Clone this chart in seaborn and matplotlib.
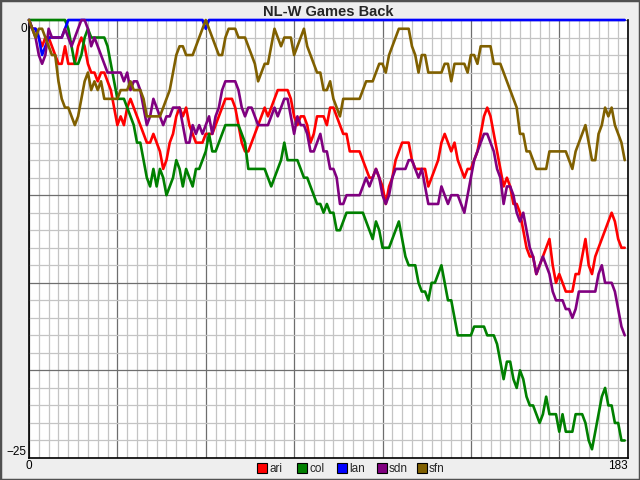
import numpy as np
import pandas as pd
import matplotlib
matplotlib.use("Agg")
import matplotlib.pyplot as plt
from matplotlib.patches import Rectangle
from matplotlib.transforms import ScaledTranslation
import seaborn as sns

title = "NL-W Games Back"
teams = ["ari", "col", "lan", "sdn", "sfn"]
colors = ["#FF0000", "#008000", "#0000FF", "#800080", "#806000"]
x_max = 183
y_min = -25

ari = [0, -0.5, -0.5, -1, -1.5, -1, -1, -1.5, -2, -2.5,
       -2.5, -1.5, -2.5, -2.5, -2.5, -1.5, -1, -1.5, -2.5, -3,
       -3, -3.5, -3, -3, -3.5, -4, -5, -6, -5.5, -6,
       -5, -4.5, -5, -5.5, -6, -6.5, -7, -7, -6.5, -7,
       -7.5, -8.5, -8, -7, -6.5, -5.5, -5, -5.5, -5, -6,
       -6.5, -7, -7, -7, -6.5, -6.5, -6.5, -6, -5.5, -5,
       -4.5, -4.5, -4.5, -5, -6, -7, -7.5, -7.5, -7, -6.5,
       -6, -5.5, -5, -5.5, -5, -4.5, -4, -4, -4, -4,
       -4.5, -5.5, -6, -5.5, -5.5, -6, -7, -6.5, -5.5, -5.5,
       -5.5, -6, -5, -5, -5.5, -6, -6.5, -6.5, -7.5, -7.5,
       -7.5, -7.5, -8, -8.5, -9, -9, -8.5, -9, -9.5, -10.5,
       -9.5, -9, -8, -7.5, -7, -7, -7, -8, -8.5, -8.5,
       -8.5, -8.5, -9.5, -9, -8.5, -8, -7, -6.5, -7, -7.5,
       -7, -8, -8.5, -9, -8.5, -8.5, -8, -7.5, -6.5, -5.5,
       -5, -5.5, -6.5, -7.5, -8.5, -9.5, -9, -9.5, -10.5, -10.5,
       -11, -12, -13, -13.5, -13.5, -14.5, -14, -13.5, -13, -12.5,
       -14, -15, -14.5, -15, -15.5, -15.5, -15.5, -14.5, -14.5, -13.5,
       -12.5, -14, -14.5, -13.5, -13, -12.5, -12, -11.5, -11, -11.5,
       -12.5, -13, -13]

col = [0, 0, 0, 0, 0, 0, 0, 0, 0, 0,
       0, 0, -0.5, -1.5, -2.5, -2.5, -2, -1, -0.5, -1,
       -1, -1, -1, -1, -1.5, -2.5, -3.5, -4.5, -4.5, -4.5,
       -5, -5.5, -6, -7, -7, -8, -9, -9.5, -8.5, -9.5,
       -8.5, -9, -10, -9.5, -9, -8, -8.5, -9.5, -8.5, -9,
       -9.5, -8.5, -8.5, -8, -7.5, -6.5, -7.5, -7.5, -7, -6.5,
       -6, -6, -6, -6, -6, -6.5, -7, -8.5, -8.5, -8.5,
       -8.5, -8.5, -8.5, -9, -9.5, -9, -8.5, -8, -7, -8,
       -8, -8, -8, -8.5, -9, -9, -9.5, -10, -10.5, -10.5,
       -11, -10.5, -11, -11, -12, -12, -11.5, -11, -11, -11,
       -11, -11, -11, -11.5, -12, -12.5, -11.5, -12, -13, -13,
       -13, -12.5, -12, -11.5, -12.5, -13.5, -14, -14, -14, -15,
       -15.5, -15.5, -16, -15, -15, -14.5, -14, -15, -16, -16,
       -17, -18, -18, -18, -18, -18, -17.5, -17.5, -17.5, -17.5,
       -18, -18, -18, -18.5, -19.5, -20.5, -19.5, -19.5, -20.5, -21,
       -20, -20.5, -21.5, -22, -22, -22.5, -23, -22.5, -21.5, -22.5,
       -22.5, -22.5, -23.5, -22.5, -23.5, -23.5, -23.5, -22.5, -22.5, -22.5,
       -23, -24, -24.5, -23.5, -22.5, -21.5, -21, -22, -22, -23,
       -23, -24, -24]

lan = [0, -0.5, -0.5, -1, -2, -1.5, -1, -1, -1, -1,
       -1, -0.5] + [0] * 42 + [-0.5] + [0] * 128

sdn = [0, -0.5, -1, -2, -2.5, -2, -0.5, -1, -1, -1,
       -1, -0.5, -1, -1.5, -1, -0.5, 0, 0, -0.5, -1.5,
       -1, -1.5, -2, -2.5, -3, -3, -3, -3, -3, -3.5,
       -3, -4, -3.5, -3.5, -4, -5, -6, -5.5, -4.5, -5,
       -5.5, -6, -5.5, -5.5, -5, -5, -5, -6, -7, -7,
       -6, -6.5, -6, -6.5, -6, -5.5, -6.5, -5.5, -5, -4,
       -3.5, -3.5, -3.5, -3.5, -4, -5, -5.5, -5, -5, -5.5,
       -6, -6, -6, -6, -5.5, -5, -5.5, -5, -4.5, -4.5,
       -5.5, -6.5, -5.5, -6, -6, -6.5, -7.5, -7.5, -7, -6.5,
       -7.5, -7.5, -8.5, -8.5, -9, -10.5, -10.5, -10, -10, -10,
       -10, -10, -9.5, -9, -9.5, -9, -8.5, -9, -10, -10.5,
       -10, -9, -8.5, -8.5, -8.5, -8.5, -8, -8, -8.5, -9,
       -8.5, -9.5, -10.5, -10.5, -10.5, -10.5, -9.5, -10, -10.5, -10,
       -10, -10, -10.5, -11, -10, -9, -8, -7.5, -7, -6.5,
       -6.5, -7, -7.5, -8.5, -9, -10.5, -9.5, -9.5, -10, -11,
       -11.5, -11, -12, -13, -13.5, -14.5, -14, -13.5, -14, -14.5,
       -15.5, -16, -16, -16, -16.5, -16.5, -17, -16.5, -15.5, -15.5,
       -15.5, -15.5, -15.5, -15.5, -14.5, -14, -15, -15, -15, -15.5,
       -16.5, -17.5, -18]

sfn = [0, -0.5, -1, -0.5, -0.5, -1, -1.5, -2, -2, -3.5,
       -4.5, -5, -5, -5.5, -6, -5.5, -4.5, -3.5, -3, -4,
       -3.5, -4, -3.5, -4.5, -4.5, -4.5, -4.5, -4.5, -4, -4,
       -4, -3.5, -4, -4, -4, -4.5, -5.5, -5.5, -5.5, -5.5,
       -5.5, -5, -4.5, -4, -3, -2, -1.5, -1.5, -2, -2,
       -2, -1.5, -1, -0.5, 0, -0.5, -1, -1.5, -2, -2,
       -1, -0.5, -0.5, -0.5, -1, -1, -1, -1.5, -2, -2.5,
       -3.5, -3, -2.5, -2.5, -1.5, -0.5, -1, -1.5, -1, -1,
       -1, -2, -1.5, -1, -0.5, -1.5, -2, -2.5, -3, -3,
       -4, -4, -3.5, -4.5, -5, -5.5, -4.5, -4.5, -4.5, -4.5,
       -4.5, -4.5, -4, -3.5, -3.5, -3.5, -3, -2.5, -2.5, -3,
       -2, -1.5, -1, -0.5, -0.5, -0.5, -0.5, -1.5, -2, -3,
       -2, -2, -3, -3, -3, -3, -3, -2.5, -2.5, -3.5,
       -2.5, -2.5, -2.5, -2.5, -3, -2, -2, -2.5, -1.5, -1.5,
       -1.5, -1.5, -2.5, -2.5, -2.5, -3, -3.5, -4, -4.5, -5,
       -6.5, -6.5, -7.5, -7.5, -8, -8.5, -8.5, -8.5, -8.5, -7.5,
       -7.5, -7.5, -7.5, -7.5, -7.5, -8, -8.5, -7.5, -7, -6.5,
       -6, -7, -8, -8, -6.5, -6, -5, -5.5, -5, -6,
       -6.5, -7, -8]

series = {"ari": ari, "col": col, "lan": lan, "sdn": sdn, "sfn": sfn}
frames = []
for name, vals in series.items():
    frames.append(pd.DataFrame({"day": np.arange(len(vals)), "gb": vals, "team": name}))
df = pd.concat(frames, ignore_index=True)

sns.set_style("white")
plt.rcParams["font.family"] = ["Liberation Sans", "DejaVu Sans"]

W, H = 640, 480
fig = plt.figure(figsize=(6.4, 4.8), dpi=100, facecolor="#EEEEEE")
ax = fig.add_axes([29 / W, 22 / H, 599 / W, 438 / H])
ax.set_facecolor("white")

palette = dict(zip(teams, colors))
sns.lineplot(data=df, x="day", y="gb", hue="team", palette=palette,
             hue_order=teams, linewidth=1.9, legend=False, ax=ax,
             estimator=None, sort=False, zorder=3, clip_on=False)
for ln in ax.lines:
    ln.set_solid_joinstyle("round")
    ln.set_solid_capstyle("round")

ax.set_xlim(0, x_max)
ax.set_ylim(y_min, 0)

xmaj = list(range(0, 163, 27)) + [x_max]
ax.set_xticks(xmaj)
ax.set_xticklabels(["0"] + [""] * (len(xmaj) - 2) + [str(x_max)])
ax.set_xticks(np.arange(0, x_max + 1, 3), minor=True)
ymaj = [0, -5, -10, -15, -20, -25]
ax.set_yticks(ymaj)
ax.set_yticklabels(["0", "", "", "", "", "\u221225"])
ax.set_yticks(np.arange(y_min, 1, 1), minor=True)

ax.grid(which="minor", color="#C4C4C4", linewidth=0.9, zorder=0)
ax.grid(which="major", color="#6E6E6E", linewidth=0.9, zorder=1)
ax.set_axisbelow(True)
ax.tick_params(which="both", length=0, labelsize=8.5, pad=1.5, colors="black")

ylabs = ax.get_yticklabels()
ylabs[0].set_verticalalignment("top")
ylabs[0].set_transform(ylabs[0].get_transform() +
                       ScaledTranslation(0, -3 / 100, fig.dpi_scale_trans))
ylabs[-1].set_verticalalignment("bottom")
xlabs = ax.get_xticklabels()
xlabs[-1].set_horizontalalignment("right")

for s in ax.spines.values():
    s.set_color("black")
    s.set_linewidth(1.2)
ax.spines["top"].set_visible(False)
ax.set_xlabel("")
ax.set_ylabel("")

fig.text(328.5 / W, 1 - 12 / H, title, ha="center", va="center",
         fontsize=10.5, fontweight="bold")

# legend: colour boxes with labels along the bottom edge
for i, (t, c) in enumerate(zip(teams, colors)):
    x0 = 257 + 40 * i
    fig.patches.append(Rectangle((x0 / W, (H - 473) / H), 10 / W, 10 / H,
                                 transform=fig.transFigure, facecolor=c,
                                 edgecolor="black", linewidth=0.8))
    fig.text((x0 + 12) / W, (H - 468.5) / H, t, ha="left", va="center",
             fontsize=8.5)

fig.patches.append(Rectangle((0, 0), 1, 1, transform=fig.transFigure,
                             fill=False, edgecolor="#505050", linewidth=2.5))

fig.savefig("out.png", dpi=100, facecolor=fig.get_facecolor())
